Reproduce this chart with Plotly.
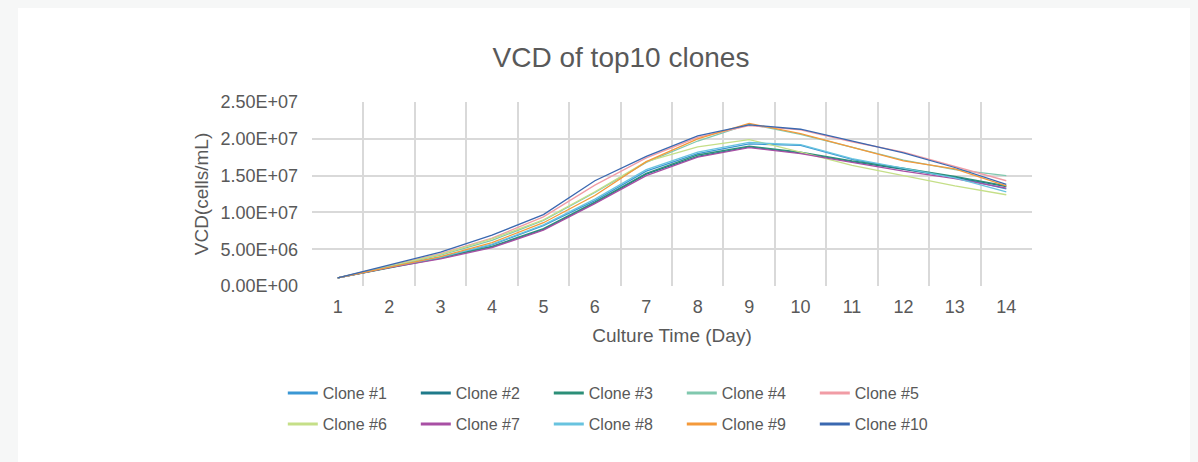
import plotly.graph_objects as go

days = list(range(1, 15))
clone_names = ["Clone #1", "Clone #2", "Clone #3", "Clone #4", "Clone #5",
               "Clone #6", "Clone #7", "Clone #8", "Clone #9", "Clone #10"]
colors = ["#3a97d4", "#1f7a8a", "#2c8f78", "#80c8ae", "#f19ca5",
          "#c5df88", "#a84fa4", "#68c3df", "#f4993a", "#3a68b0"]

# VCD values in cells/mL (millions)
clone1 = [1.1, 2.6, 3.9, 5.6, 8.2, 11.6, 15.6, 18.0, 19.3, 19.1, 17.2, 15.9, 14.8, 13.2]
clone2 = [1.1, 2.5, 3.8, 5.3, 7.7, 11.3, 15.2, 17.6, 18.9, 18.1, 16.9, 15.8, 14.8, 13.5]
clone3 = [1.1, 2.5, 3.8, 5.4, 7.8, 11.4, 15.3, 17.8, 19.0, 18.2, 17.0, 16.0, 14.9, 13.6]
clone4 = [1.1, 2.7, 4.2, 6.2, 8.9, 12.7, 16.8, 19.7, 22.0, 20.6, 18.8, 17.1, 15.8, 15.0]
clone5 = [1.1, 2.8, 4.4, 6.5, 9.4, 13.7, 17.4, 20.2, 21.8, 21.2, 19.6, 18.2, 16.3, 14.3]
clone6 = [1.1, 2.7, 4.3, 6.4, 9.0, 12.8, 16.9, 18.9, 19.9, 18.2, 16.4, 15.0, 13.6, 12.4]
clone7 = [1.1, 2.5, 3.7, 5.2, 7.6, 11.2, 15.0, 17.5, 18.8, 18.0, 16.8, 15.6, 14.6, 13.3]
clone8 = [1.1, 2.6, 3.9, 5.7, 8.3, 11.8, 15.8, 18.2, 19.5, 19.2, 17.3, 16.0, 14.7, 12.8]
clone9 = [1.1, 2.6, 4.0, 5.9, 8.6, 12.3, 16.9, 20.0, 22.1, 20.7, 18.9, 17.0, 15.9, 13.6]
clone10 = [1.1, 2.9, 4.6, 6.9, 9.7, 14.3, 17.6, 20.4, 21.9, 21.3, 19.7, 18.1, 16.1, 13.8]
series = [clone1, clone2, clone3, clone4, clone5, clone6, clone7, clone8, clone9, clone10]

y_tick_values = [0, 5e6, 1e7, 1.5e7, 2e7, 2.5e7]
y_tick_labels = ["0.00E+00", "5.00E+06", "1.00E+07", "1.50E+07", "2.00E+07", "2.50E+07"]

FONT = "Liberation Sans, Arial, sans-serif"
GRAY = "#595959"
GRID = "#d9d9d9"
OUTER = "#f6f7f7"

fig = go.Figure()
for i, (name, vals) in enumerate(zip(clone_names, series)):
    fig.add_trace(go.Scatter(
        x=days, y=[v * 1e6 for v in vals], mode="lines", name=name,
        line=dict(color=colors[i], width=1.3), showlegend=False,
        legendgroup=name, hoverinfo="x+y+name"))
# legend entries (thicker sample lines)
for i, name in enumerate(clone_names):
    fig.add_trace(go.Scatter(
        x=[None], y=[None], mode="lines", name=name,
        line=dict(color=colors[i], width=3), legendgroup=name,
        legend="legend" if i < 5 else "legend2"))

leg_common = dict(orientation="h", xanchor="left", yanchor="middle",
                  font=dict(family=FONT, size=16, color=GRAY),
                  bgcolor="rgba(0,0,0,0)", entrywidth=88,
                  entrywidthmode="pixels", itemwidth=30,
                  tracegroupgap=0)

fig.update_layout(
    width=1198, height=462,
    margin=dict(l=304, r=174, t=94, b=184),
    paper_bgcolor=OUTER, plot_bgcolor="white",
    title=dict(text="VCD of top10 clones", x=613 / 1198, xanchor="center",
               y=1 - 49 / 462, yanchor="middle",
               font=dict(family=FONT, size=28, color=GRAY)),
    font=dict(family=FONT, color=GRAY),
    xaxis=dict(range=[0.5, 14.5], tickmode="array", tickvals=days,
               ticktext=[str(d) for d in days], showgrid=False, zeroline=False,
               showline=False, ticks="", ticklabelstandoff=8,
               tickfont=dict(size=18, color=GRAY),
               title=dict(text="Culture Time (Day)", font=dict(size=19, color=GRAY), standoff=12),
               minor=dict(tickmode="array", tickvals=[d + 0.5 for d in range(0, 15)],
                          showgrid=True, gridcolor=GRID, gridwidth=1.5, ticks="")),
    yaxis=dict(range=[0, 2.5e7], tickmode="array", tickvals=y_tick_values,
               ticktext=y_tick_labels, showgrid=True, gridcolor=GRID, gridwidth=1.5,
               zeroline=False, showline=False, ticks="", ticklabelstandoff=13,
               tickfont=dict(size=18, color=GRAY),
               title=dict(text="VCD(cells/mL)", font=dict(size=19, color=GRAY), standoff=6)),
    legend=dict(x=-0.06 + 14 / 720, y=(286 - 393) / 184, **leg_common),
    legend2=dict(x=-0.06 + 14 / 720, y=(286 - 424) / 184, **leg_common),
    showlegend=True,
)

fig.add_shape(type="rect", xref="paper", yref="paper",
              x0=(18 - 312) / 720, x1=(1195 - 312) / 720,
              y0=(286 - 480) / 184, y1=(286 - 7) / 184,
              fillcolor="white", line=dict(width=0), layer="below")

fig.write_html("out.html",
               post_script="document.body.style.background='" + OUTER + "';")
